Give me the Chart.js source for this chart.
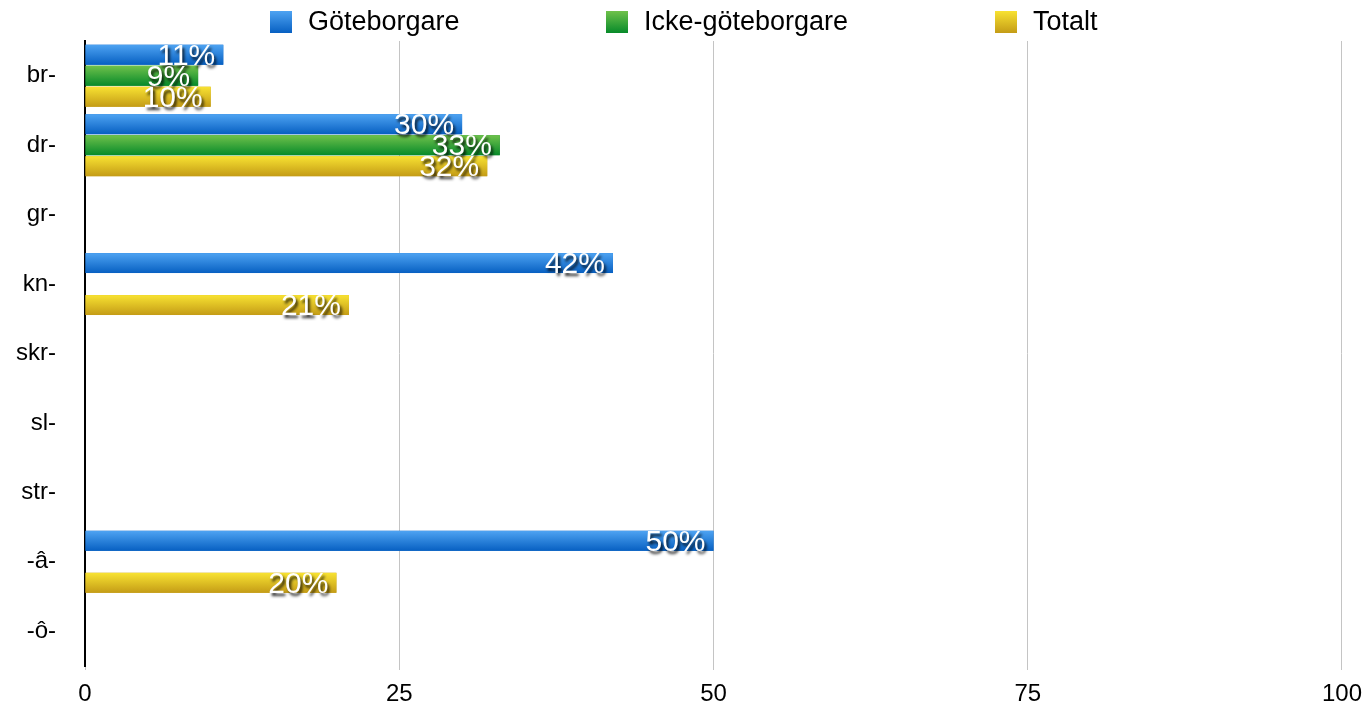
<!DOCTYPE html>
<html>
<head>
<meta charset="utf-8">
<script src="https://cdn.jsdelivr.net/npm/chart.js@4"></script>
<style>
  html, body { margin: 0; padding: 0; background: #fff; }
  #wrap { width: 1372px; height: 706px; }
</style>
</head>
<body>
<div id="wrap"><canvas id="bar-chart"></canvas></div>
<script>
const categories = ['br-', 'dr-', 'gr-', 'kn-', 'skr-', 'sl-', 'str-', '-â-', '-ô-'];
const goteborgare = [11, 30, null, 42, null, null, null, 50, null];
const ickeGoteborgare = [9, 33, null, null, null, null, null, null, null];
const totalt = [10, 32, null, 21, null, null, null, 20, null];
const xTicks = [0, 25, 50, 75, 100];

const FONT = '"Liberation Sans", Arial, Helvetica, sans-serif';

// top/bottom colours for the glossy bar fills
const shades = [
  ['#4ea3f2', '#0760c2'],
  ['#6fc14b', '#078a2a'],
  ['#f8e232', '#c49c16']
];

function vGradient(ctx, top, bottom, pair) {
  const g = ctx.createLinearGradient(0, top, 0, bottom);
  g.addColorStop(0, pair[0]);
  g.addColorStop(1, pair[1]);
  return g;
}

// repaint each bar with a vertical gradient, then put the value label on it
const glossyBars = {
  id: 'glossyBars',
  afterDatasetsDraw(chart) {
    const ctx = chart.ctx;
    ctx.save();
    chart.data.datasets.forEach((ds, i) => {
      chart.getDatasetMeta(i).data.forEach((el, j) => {
        if (ds.data[j] === null) return;
        const h = el.height / 2;
        ctx.fillStyle = vGradient(ctx, el.y - h, el.y + h, shades[i]);
        ctx.fillRect(el.base, el.y - h, el.x - el.base, el.height);
      });
    });

    ctx.font = '30px ' + FONT;
    ctx.textAlign = 'right';
    ctx.textBaseline = 'middle';
    ctx.fillStyle = '#ffffff';
    ctx.shadowColor = 'rgba(0,0,0,0.85)';
    ctx.shadowOffsetX = 2;
    ctx.shadowOffsetY = 3;
    ctx.shadowBlur = 3;
    chart.data.datasets.forEach((ds, i) => {
      chart.getDatasetMeta(i).data.forEach((el, j) => {
        const v = ds.data[j];
        if (v === null) return;
        ctx.fillText(v + '%', el.x - 8, el.y + 2);
      });
    });
    ctx.restore();
  }
};

// legend row across the top
const legendXs = [270, 606, 995];
const topLegend = {
  id: 'topLegend',
  afterDraw(chart) {
    const ctx = chart.ctx;
    ctx.save();
    ctx.font = '27px ' + FONT;
    ctx.textBaseline = 'middle';
    ctx.textAlign = 'left';
    chart.data.datasets.forEach((ds, i) => {
      const x = legendXs[i];
      ctx.fillStyle = vGradient(ctx, 11, 33, shades[i]);
      ctx.fillRect(x, 11, 22, 22);
      ctx.fillStyle = '#000';
      ctx.fillText(ds.label, x + 38, 23);
    });
    ctx.restore();
  }
};

new Chart(document.getElementById('bar-chart'), {
  type: 'bar',
  data: {
    labels: categories,
    datasets: [
      { label: 'Göteborgare', data: goteborgare, backgroundColor: shades[0][1] },
      { label: 'Icke-göteborgare', data: ickeGoteborgare, backgroundColor: shades[1][1] },
      { label: 'Totalt', data: totalt, backgroundColor: shades[2][1] }
    ]
  },
  options: {
    indexAxis: 'y',
    responsive: true,
    maintainAspectRatio: false,
    animation: false,
    categoryPercentage: 0.907,
    barPercentage: 0.95,
    layout: { padding: { top: 41, right: 25, left: 0, bottom: 0 } },
    plugins: {
      legend: { display: false },
      tooltip: { enabled: false }
    },
    scales: {
      x: {
        min: 0,
        max: 100,
        afterBuildTicks(scale) { scale.ticks = xTicks.map(v => ({ value: v })); },
        afterFit(scale) {
          scale.height = 40;
          scale.paddingTop = 0;
          scale.paddingBottom = 0;
        },
        grid: { color: '#c4c4c4', lineWidth: 1, drawTicks: true, tickLength: 4 },
        border: { display: false },
        ticks: { color: '#000', padding: 10, font: { family: FONT, size: 24 } }
      },
      y: {
        afterFit(scale) {
          scale.width = 85;
          scale.paddingTop = 0;
          scale.paddingBottom = 0;
        },
        grid: { display: false, drawTicks: false },
        border: { display: true, color: '#000', width: 2 },
        ticks: { color: '#000', padding: 29, font: { family: FONT, size: 24 } }
      }
    }
  },
  plugins: [glossyBars, topLegend]
});
</script>
</body>
</html>
